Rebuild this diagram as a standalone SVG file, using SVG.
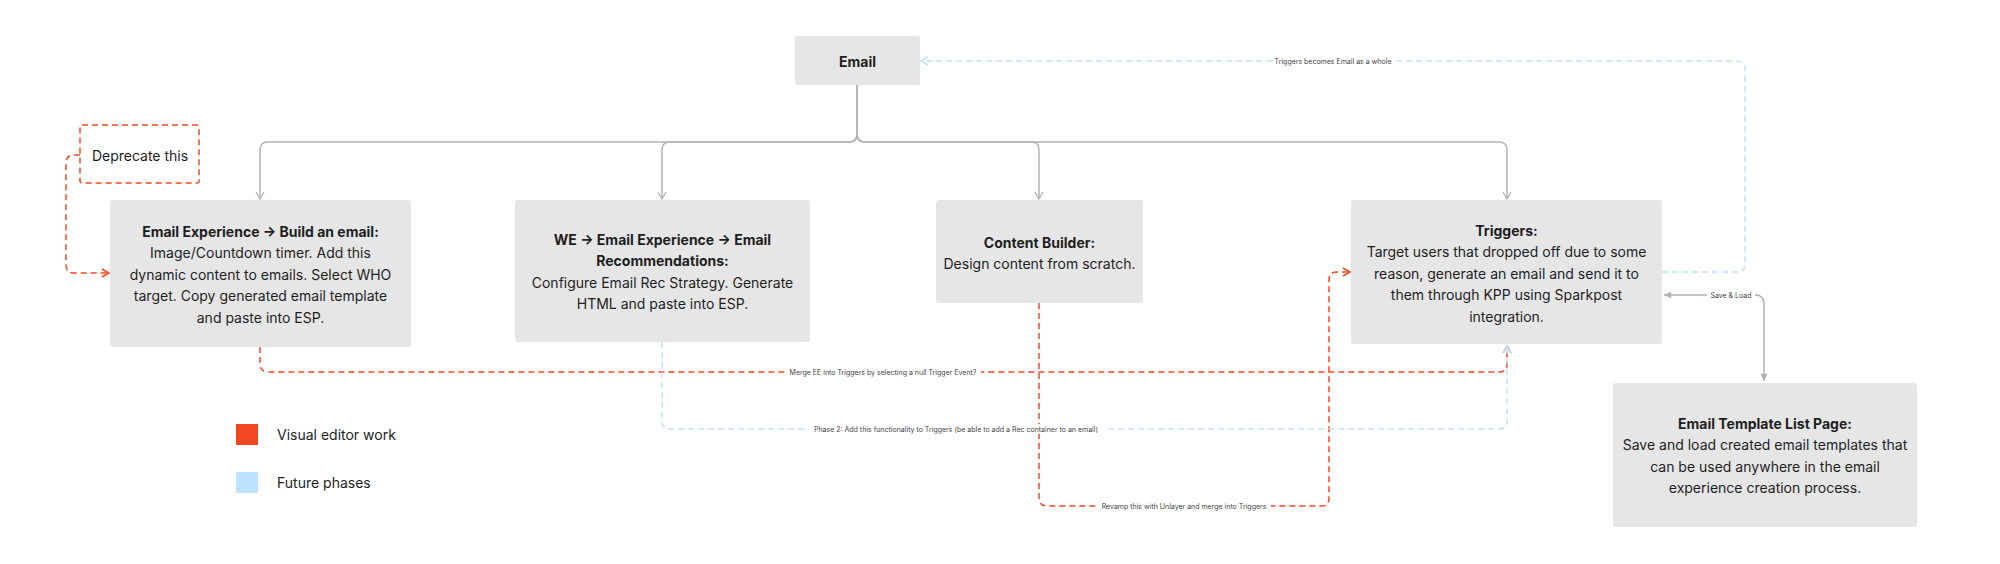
<svg xmlns="http://www.w3.org/2000/svg" width="2000" height="564" viewBox="0 0 2000 564">
<defs>
<style>
.box{fill:#E6E6E6;}
.t{font-family:Inter,"Noto Sans","Liberation Sans",sans-serif;font-size:14px;fill:#1E1E1E;text-anchor:middle;dominant-baseline:central;}
.b{font-weight:700;}
.lbl{font-family:Inter,"Noto Sans","Liberation Sans",sans-serif;font-size:7px;fill:#444;text-anchor:middle;dominant-baseline:central;}
.lg{font-family:Inter,"Noto Sans","Liberation Sans",sans-serif;font-size:14px;fill:#1E1E1E;dominant-baseline:central;}
.gray{fill:none;stroke:#B3B3B3;stroke-width:1.5;}
.org{fill:none;stroke:#F24822;stroke-width:1.5;stroke-dasharray:6 4;}
.blu{fill:none;stroke:#BDE3FF;stroke-width:1.5;stroke-dasharray:6 4;}
.bg{fill:#FFFFFF;}
</style>
<marker id="aG" viewBox="0 0 10 10" refX="9" refY="5" markerWidth="10" markerHeight="10" markerUnits="userSpaceOnUse" orient="auto">
<path d="M2,1 L9,5 L2,9" fill="none" stroke="#B3B3B3" stroke-width="1.3"/>
</marker>
<marker id="aO" viewBox="0 0 10 10" refX="9" refY="5" markerWidth="10" markerHeight="10" markerUnits="userSpaceOnUse" orient="auto">
<path d="M2,1 L9,5 L2,9" fill="none" stroke="#F24822" stroke-width="1.5"/>
</marker>
<marker id="aB" viewBox="0 0 10 10" refX="9" refY="5" markerWidth="10" markerHeight="10" markerUnits="userSpaceOnUse" orient="auto">
<path d="M2,1 L9,5 L2,9" fill="none" stroke="#BDE3FF" stroke-width="1.5"/>
</marker>
<marker id="fG" viewBox="0 0 10 10" refX="9" refY="5" markerWidth="9" markerHeight="9" markerUnits="userSpaceOnUse" orient="auto-start-reverse">
<path d="M1,1 L9,5 L1,9 Z" fill="#B3B3B3"/>
</marker>
</defs>
<rect width="2000" height="564" fill="#FFFFFF"/>

<g id="connectors">
<path class="gray" d="M857,85 V134 Q857,142 849,142 H268 Q260,142 260,150 V199" marker-end="url(#aG)"/>
<path class="gray" d="M857,85 V134 Q857,142 849,142 H670 Q662,142 662,150 V199" marker-end="url(#aG)"/>
<path class="gray" d="M857,134 Q857,142 865,142 H1031 Q1039,142 1039,150 V199" marker-end="url(#aG)"/>
<path class="gray" d="M857,134 Q857,142 865,142 H1499 Q1507,142 1507,150 V199" marker-end="url(#aG)"/>

<path class="org" d="M80,155 H74 Q66,155 66,163 V265 Q66,273 74,273 H109" marker-end="url(#aO)"/>
<path class="org" d="M260,347 V364 Q260,372 268,372 H1499 Q1507,372 1507,364 V346" marker-end="url(#aO)"/>
<path class="org" d="M1039,303 V498 Q1039,506 1047,506 H1321 Q1329,506 1329,498 V280 Q1329,272 1337,272 H1350" marker-end="url(#aO)"/>
<path class="blu" d="M662,342 V421 Q662,429 670,429 H1499 Q1507,429 1507,421 V346" marker-end="url(#aB)"/>
<path class="blu" d="M1662,272 H1737 Q1745,272 1745,264 V69 Q1745,61 1737,61 H921" marker-end="url(#aB)"/>
<path class="gray" d="M1764,381 V304 Q1764,295 1755,295 H1664" marker-start="url(#fG)" marker-end="url(#fG)"/>

<rect class="bg" x="1273" y="56" width="120" height="10"/>
<text class="lbl" x="1333" y="61">Triggers becomes Email as a whole</text>
<rect class="bg" x="786" y="367" width="195" height="10"/>
<text class="lbl" x="883" y="372">Merge EE into Triggers by selecting a null Trigger Event?</text>
<rect class="bg" x="808" y="424" width="297" height="10"/>
<text class="lbl" x="956" y="429">Phase 2: Add this functionality to Triggers (be able to add a Rec container to an email)</text>
<rect class="bg" x="1097" y="501" width="174" height="10"/>
<text class="lbl" x="1184" y="506">Revamp this with Unlayer and merge into Triggers</text>
<rect class="bg" x="1707" y="290" width="48" height="10"/>
<text class="lbl" x="1731" y="295">Save &amp; Load</text>
</g>

<g id="email">
<rect class="box" x="795" y="36" width="125" height="49" rx="3"/>
<text class="t b" x="857.5" y="61">Email</text>
</g>

<g id="deprecate">
<rect x="80" y="125" width="119" height="58" rx="2" fill="none" stroke="#F24822" stroke-width="1.5" stroke-dasharray="6 4"/>
<text class="t" x="140" y="155">Deprecate this</text>
</g>

<g id="email-experience">
<rect class="box" x="110" y="200" width="301" height="147" rx="3"/>
<text class="t b" x="260.5" y="231">Email Experience → Build an email:</text>
<text class="t" x="260.5" y="252.5">Image/Countdown timer. Add this</text>
<text class="t" x="260.5" y="274">dynamic content to emails. Select WHO</text>
<text class="t" x="260.5" y="295.5">target. Copy generated email template</text>
<text class="t" x="260.5" y="317">and paste into ESP.</text>
</g>

<g id="we-email-recs">
<rect class="box" x="515" y="200" width="295" height="142" rx="3"/>
<text class="t b" x="662.5" y="239">WE → Email Experience → Email</text>
<text class="t b" x="662.5" y="260.5">Recommendations:</text>
<text class="t" x="662.5" y="282">Configure Email Rec Strategy. Generate</text>
<text class="t" x="662.5" y="303.5">HTML and paste into ESP.</text>
</g>

<g id="content-builder">
<rect class="box" x="936" y="200" width="207" height="103" rx="3"/>
<text class="t b" x="1039.5" y="242">Content Builder:</text>
<text class="t" x="1039.5" y="263">Design content from scratch.</text>
</g>

<g id="triggers">
<rect class="box" x="1351" y="200" width="311" height="144" rx="3"/>
<text class="t b" x="1506.5" y="230">Triggers:</text>
<text class="t" x="1506.5" y="251.5">Target users that dropped off due to some</text>
<text class="t" x="1506.5" y="273">reason, generate an email and send it to</text>
<text class="t" x="1506.5" y="294.5">them through KPP using Sparkpost</text>
<text class="t" x="1506.5" y="316">integration.</text>
</g>

<g id="email-template-list">
<rect class="box" x="1613" y="383" width="304" height="144" rx="3"/>
<text class="t b" x="1765" y="423">Email Template List Page:</text>
<text class="t" x="1765" y="444.5">Save and load created email templates that</text>
<text class="t" x="1765" y="466">can be used anywhere in the email</text>
<text class="t" x="1765" y="487.5">experience creation process.</text>
</g>

<g id="legend">
<rect x="236" y="424" width="22" height="21" fill="#F24822"/>
<text class="lg" x="277" y="434">Visual editor work</text>
<rect x="236" y="472" width="22" height="21" fill="#BDE3FF"/>
<text class="lg" x="277" y="482">Future phases</text>
</g>
</svg>
